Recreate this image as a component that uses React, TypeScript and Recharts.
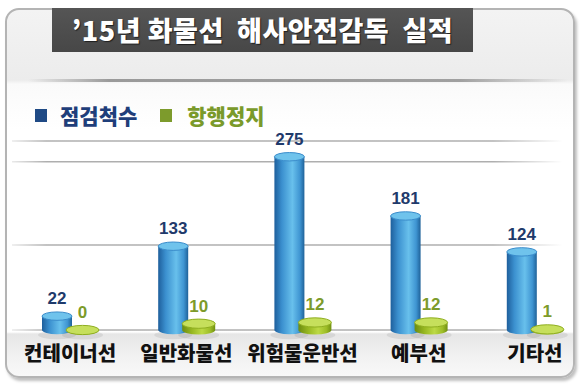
import React from 'react';
import { BarChart, Bar, XAxis, YAxis, CartesianGrid, LabelList } from 'recharts';

const categories = ['컨테이너선', '일반화물선', '위험물운반선', '예부선', '기타선'];
const inspected = [22, 133, 275, 181, 124];
const suspended = [0, 10, 12, 12, 1];
const seriesNames = ['점검척수', '항행정지'];
const gridTicks = [0, 135, 267];

const data = categories.map((name, i) => ({
  name,
  inspected: inspected[i],
  suspended: suspended[i],
}));

const KR = '"Noto Sans CJK KR", "Noto Sans", sans-serif';
const NUM = '"Liberation Sans", Arial, sans-serif';

// 원통 모양 막대
function Cylinder(props: any) {
  const { x, y, width, height, body, top, rim } = props;
  if (x == null || y == null) return null;
  const h = Math.max(0, height || 0);
  const rx = width / 2;
  const ry = Math.max(3, width * 0.14);
  const cx = x + rx;
  const bottom = y + h;
  const d = `M${x},${y} L${x},${bottom} A${rx},${ry} 0 0 0 ${x + width},${bottom} L${x + width},${y} Z`;
  return (
    <g>
      <ellipse cx={cx} cy={bottom + 5} rx={rx + 4} ry={ry} fill="rgba(0,0,0,0.07)" />
      <path d={d} fill={`url(#${body})`} />
      <ellipse cx={cx} cy={y} rx={rx} ry={ry} fill={top} stroke={rim} strokeWidth={1} />
    </g>
  );
}

function TopLabel(props: any) {
  const { x, y, width, value, color } = props;
  return (
    <text
      x={x + width / 2}
      y={y - 12}
      textAnchor="middle"
      fontFamily={NUM}
      fontWeight={700}
      fontSize={17}
      fill={color}
    >
      {value}
    </text>
  );
}

export default function App() {
  return (
    <div style={{ position: 'absolute', left: 0, top: 0, width: 580, height: 390, overflow: 'hidden', background: '#fff' }}>
      {/* 테두리 */}
      <div
        style={{
          position: 'absolute',
          left: 5,
          top: 8,
          width: 566,
          height: 366,
          border: '2px solid #b4b4b4',
          borderRadius: 14,
          boxShadow: '2px 3px 3px rgba(0,0,0,0.25)',
          background:
            'linear-gradient(to bottom, #f3f3f3 0px, #ececec 70px, #fafafa 74px, #ffffff 120px, #ffffff 322px, #e6e6e6 324px, #f1f1f1 345px, #f8f8f8 366px)',
        }}
      />
      {/* 구분선 */}
      <div
        style={{
          position: 'absolute',
          left: 28,
          top: 79,
          width: 540,
          height: 3,
          background: 'linear-gradient(to right, rgba(140,140,140,0), #9a9a9a 15%, #a0a0a0 80%, rgba(160,160,160,0))',
        }}
      />
      {/* 제목 */}
      <div
        style={{
          position: 'absolute',
          left: 52,
          top: 8,
          width: 421,
          height: 44,
          background: 'linear-gradient(to bottom, #555 0%, #474747 100%)',
          color: '#fff',
          fontFamily: KR,
          fontWeight: 900,
          fontSize: 27,
          letterSpacing: 0.5,
          lineHeight: '44px',
          textAlign: 'center',
          whiteSpace: 'pre',
          textShadow: '1px 1px 1px rgba(0,0,0,0.6)',
        }}
      >
        {'’15년 화물선  해사안전감독  실적'}
      </div>
      {/* 범례 */}
      <div style={{ position: 'absolute', left: 35, top: 100, display: 'flex', alignItems: 'center', fontFamily: KR, fontWeight: 900, fontSize: 21 }}>
        <span style={{ width: 12, height: 13, background: '#1f4a85', display: 'inline-block', marginRight: 13 }} />
        <span style={{ color: '#1f3e7a', marginRight: 23 }}>{seriesNames[0]}</span>
        <span style={{ width: 12, height: 13, background: '#7d9b2c', display: 'inline-block', marginRight: 15 }} />
        <span style={{ color: '#7a9a2a' }}>{seriesNames[1]}</span>
      </div>
      <div style={{ position: 'absolute', left: 0, top: 0 }}>
        <BarChart
          width={600}
          height={390}
          data={data}
          margin={{ top: 141, right: 7, bottom: 30, left: 12 }}
          barGap={-6}
        >
          <defs>
            <linearGradient id="blueBody" x1="0" y1="0" x2="1" y2="0">
              <stop offset="0%" stopColor="#1e5f9c" />
              <stop offset="25%" stopColor="#3b90cf" />
              <stop offset="60%" stopColor="#68c0ec" />
              <stop offset="85%" stopColor="#3f95d2" />
              <stop offset="100%" stopColor="#1f6299" />
            </linearGradient>
            <linearGradient id="greenBody" x1="0" y1="0" x2="1" y2="0">
              <stop offset="0%" stopColor="#6c8c10" />
              <stop offset="30%" stopColor="#98b822" />
              <stop offset="60%" stopColor="#bcd945" />
              <stop offset="85%" stopColor="#9cbc26" />
              <stop offset="100%" stopColor="#708f12" />
            </linearGradient>
            <linearGradient id="gridFade" gradientUnits="userSpaceOnUse" x1="0" y1="0" x2="580" y2="0">
              <stop offset="0%" stopColor="#8c8c8c" stopOpacity={0} />
              <stop offset="8%" stopColor="#8c8c8c" stopOpacity={0.7} />
              <stop offset="85%" stopColor="#8c8c8c" stopOpacity={0.7} />
              <stop offset="97%" stopColor="#8c8c8c" stopOpacity={0} />
            </linearGradient>
          </defs>
          <CartesianGrid vertical={false} stroke="url(#gridFade)" strokeWidth={1.5} />
          <XAxis
            dataKey="name"
            height={30}
            axisLine={false}
            tickLine={false}
            interval={0}
            tickMargin={11}
            tick={{ fontFamily: KR, fontWeight: 900, fontSize: 20, fill: '#111' }}
          />
          <YAxis hide domain={[0, 300]} ticks={gridTicks} />
          <Bar
            dataKey="inspected"
            barSize={30}
            isAnimationActive={false}
            minPointSize={0}
            shape={(p: any) => <Cylinder {...p} body="blueBody" top="#6fc3ec" rim="#3a8ccb" />}
          >
            <LabelList dataKey="inspected" content={(p: any) => <TopLabel {...p} color="#1f3a6b" />} />
          </Bar>
          <Bar
            dataKey="suspended"
            barSize={33}
            isAnimationActive={false}
            minPointSize={0}
            shape={(p: any) => <Cylinder {...p} body="greenBody" top="#c6df5c" rim="#8fae20" />}
          >
            <LabelList dataKey="suspended" content={(p: any) => <TopLabel {...p} color="#7d9b2a" />} />
          </Bar>
        </BarChart>
      </div>
    </div>
  );
}
